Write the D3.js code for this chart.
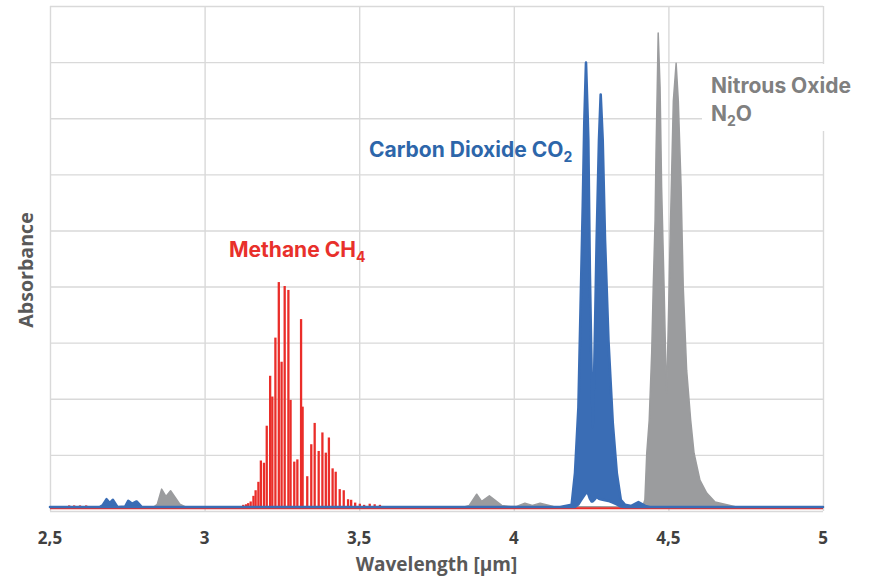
<!DOCTYPE html>
<html>
<head>
<meta charset="utf-8">
<script src="https://cdn.jsdelivr.net/npm/d3@7"></script>
<style>
  html, body { margin: 0; padding: 0; background: #fff; }
  svg { display: block; }
</style>
</head>
<body>
<svg id="chart" width="873" height="583"></svg>
<script>
// ---------- DATA ----------
const xTicks = [2.5, 3, 3.5, 4, 4.5, 5];
const yGrid = [0, 1, 2, 3, 4, 5, 6, 7, 8, 9];
const baselineValue = 0.07;

// Carbon dioxide (dense band drawn as envelope: lower / upper)
const co2Wavelength = [2.500, 2.660, 2.670, 2.683, 2.693, 2.703, 2.718, 2.743, 2.753, 2.766, 2.780, 2.797,
  4.150, 4.187, 4.198, 4.209, 4.216, 4.223, 4.228, 4.2335, 4.2388, 4.241, 4.246, 4.2518, 4.254, 4.255,
  4.260, 4.268, 4.2755, 4.281, 4.2875, 4.295, 4.306, 4.320, 4.333, 4.346, 4.360, 4.380, 4.403, 4.425, 4.440, 5.000];
const co2Upper = [0.07, 0.07, 0.10, 0.21, 0.14, 0.20, 0.07, 0.08, 0.18, 0.13, 0.17, 0.07,
  0.07, 0.11, 0.68, 1.85, 3.64, 5.42, 6.92, 7.99, 7.05, 6.61, 4.24, 2.40, 1.85, 1.50,
  2.46, 4.83, 6.61, 7.42, 6.61, 4.83, 3.05, 1.57, 0.68, 0.20, 0.11, 0.09, 0.16, 0.09, 0.07, 0.07];
const co2Lower = [0.07, 0.07, 0.07, 0.07, 0.07, 0.07, 0.07, 0.07, 0.07, 0.07, 0.07, 0.07,
  0.07, 0.07, 0.07, 0.12, 0.18, 0.24, 0.28, 0.32, 0.33, 0.30, 0.22, 0.17, 0.17, 0.17,
  0.20, 0.25, 0.22, 0.21, 0.20, 0.19, 0.18, 0.15, 0.12, 0.08, 0.07, 0.07, 0.07, 0.07, 0.07, 0.07];

// Nitrous oxide
const n2oWavelength = [2.500, 2.835, 2.847, 2.861, 2.875, 2.890, 2.920, 2.940, 3.840, 3.856, 3.880, 3.896,
  3.921, 3.961, 3.990, 4.009, 4.036, 4.060, 4.085, 4.128, 4.400, 4.418, 4.424, 4.430, 4.438, 4.446, 4.451,
  4.457, 4.460, 4.464, 4.467, 4.473, 4.478, 4.486, 4.492, 4.4945, 4.500, 4.507, 4.516, 4.525, 4.532,
  4.541, 4.548, 4.559, 4.572, 4.583, 4.602, 4.624, 4.651, 4.689, 4.720, 5.000];
const n2oValues = [0.07, 0.07, 0.12, 0.39, 0.26, 0.36, 0.12, 0.07, 0.07, 0.10, 0.30, 0.17,
  0.27, 0.10, 0.08, 0.08, 0.14, 0.10, 0.14, 0.08, 0.07, 0.10, 0.20, 1.03, 1.62, 2.82, 3.99,
  5.19, 6.38, 7.56, 8.52, 7.56, 5.78, 3.99, 2.51, 2.10, 3.41, 5.19, 7.31, 7.98, 7.31,
  5.78, 3.99, 2.51, 1.62, 1.03, 0.55, 0.32, 0.16, 0.11, 0.07, 0.07];

// Methane (line spectrum)
const ch4Wavelength = [2.562, 2.578, 2.597, 2.617,
  3.125, 3.134, 3.141, 3.149, 3.158, 3.165, 3.174, 3.182, 3.192, 3.201, 3.212, 3.219, 3.229, 3.240,
  3.249, 3.259, 3.271, 3.278, 3.290, 3.300, 3.312, 3.317, 3.332, 3.345, 3.356, 3.369, 3.381, 3.392,
  3.402, 3.414, 3.424, 3.437, 3.450, 3.464, 3.474, 3.487, 3.502, 3.516, 3.534, 3.550, 3.567];
const ch4Values = [0.10, 0.10, 0.10, 0.10,
  0.11, 0.12, 0.14, 0.17, 0.27, 0.37, 0.52, 0.90, 0.86, 1.52, 2.41, 2.04, 3.09, 4.08,
  2.66, 4.01, 3.94, 1.98, 0.88, 0.92, 3.42, 1.86, 0.62, 1.19, 1.57, 1.07, 1.40, 1.04,
  1.31, 0.76, 0.70, 0.39, 0.37, 0.21, 0.20, 0.15, 0.13, 0.11, 0.13, 0.12, 0.11];

// ---------- CHART ----------
const svg = d3.select("#chart");
const m = { left: 50, right: 823, top: 6, bottom: 511 };

const x = d3.scaleLinear().domain([2.5, 5]).range([m.left, m.right]);
const y = d3.scaleLinear().domain([0, 9]).range([m.bottom, m.top]);

const gridColor = "#d9d9d9";
const grid = svg.append("g");
grid.append("g")
  .attr("transform", `translate(0,${m.bottom})`)
  .call(d3.axisBottom(x).tickValues(xTicks).tickSize(-(m.bottom - m.top)).tickFormat(""))
  .call(g => g.select(".domain").remove())
  .call(g => g.selectAll("line").attr("stroke", gridColor).attr("stroke-width", 1.4));
grid.append("g")
  .attr("transform", `translate(${m.left},0)`)
  .call(d3.axisLeft(y).tickValues(yGrid).tickSize(-(m.right - m.left)).tickFormat(""))
  .call(g => g.select(".domain").remove())
  .call(g => g.selectAll("line").attr("stroke", gridColor).attr("stroke-width", 1.4));

const locale = d3.formatLocale({ decimal: ",", thousands: ".", grouping: [3], currency: ["", ""] });
const fmt = locale.format(".1~f");

const gray = "#9b9c9e", blue = "#3a6db5", red = "#ea2d29";

// N2O
const n2o = n2oWavelength.map((w, i) => ({ w, v: n2oValues[i] }));
svg.append("path")
  .datum(n2o)
  .attr("d", d3.area().x(d => x(d.w)).y0(y(baselineValue)).y1(d => y(d.v)))
  .attr("fill", gray).attr("stroke", gray).attr("stroke-width", 1.5).attr("stroke-linejoin", "round");

// CH4 baseline + sticks
svg.append("line")
  .attr("x1", x(2.5)).attr("x2", x(5))
  .attr("y1", y(0.05)).attr("y2", y(0.05))
  .attr("stroke", red).attr("stroke-width", 2);
svg.append("g").selectAll("line")
  .data(ch4Wavelength.map((w, i) => ({ w, v: ch4Values[i] })))
  .join("line")
  .attr("x1", d => x(d.w)).attr("x2", d => x(d.w))
  .attr("y1", y(baselineValue)).attr("y2", d => y(d.v))
  .attr("stroke", red).attr("stroke-width", 2.3);

// CO2
const co2 = co2Wavelength.map((w, i) => ({ w, lo: co2Lower[i], hi: co2Upper[i] }));
svg.append("path")
  .datum(co2)
  .attr("d", d3.area().x(d => x(d.w)).y0(d => y(d.lo)).y1(d => y(d.hi)))
  .attr("fill", blue).attr("stroke", blue).attr("stroke-width", 2.6).attr("stroke-linejoin", "round");

// N2O label background
svg.append("rect").attr("x", 702).attr("y", 64).attr("width", 165).attr("height", 67).attr("fill", "#fff");

// Axis tick labels
svg.append("g").selectAll("text")
  .data(xTicks)
  .join("text")
  .attr("x", d => x(d)).attr("y", 544)
  .attr("text-anchor", "middle")
  .attr("font-family", "'Open Sans', sans-serif")
  .attr("font-weight", 700).attr("font-size", 17)
  .attr("fill", "#404040")
  .text(d => fmt(d));

svg.append("text")
  .attr("x", (m.left + m.right) / 2).attr("y", 571)
  .attr("text-anchor", "middle")
  .attr("font-family", "'Open Sans', sans-serif")
  .attr("font-weight", 700).attr("font-size", 19)
  .attr("fill", "#595959")
  .text("Wavelength [µm]");

svg.append("text")
  .attr("transform", "translate(33,270) rotate(-90)")
  .attr("text-anchor", "middle")
  .attr("font-family", "'Open Sans', sans-serif")
  .attr("font-weight", 700).attr("font-size", 19.6)
  .attr("fill", "#595959")
  .text("Absorbance");

// Series labels
function label(xp, yp, color, main, sub, after) {
  const t = svg.append("text")
    .attr("x", xp).attr("y", yp)
    .attr("font-family", "Inter, sans-serif")
    .attr("font-weight", 700).attr("font-size", 21)
    .attr("fill", color);
  t.append("tspan").text(main);
  if (sub) t.append("tspan").attr("font-size", 14).attr("dy", 5).text(sub);
  if (after) t.append("tspan").attr("dy", -5).text(after);
  return t;
}
label(229, 257, "#e8302b", "Methane CH", "4");
label(369, 157, "#2d66aa", "Carbon Dioxide CO", "2");
label(711, 93, "#808080", "Nitrous Oxide");
label(711, 121, "#808080", "N", "2", "O");
</script>
</body>
</html>
